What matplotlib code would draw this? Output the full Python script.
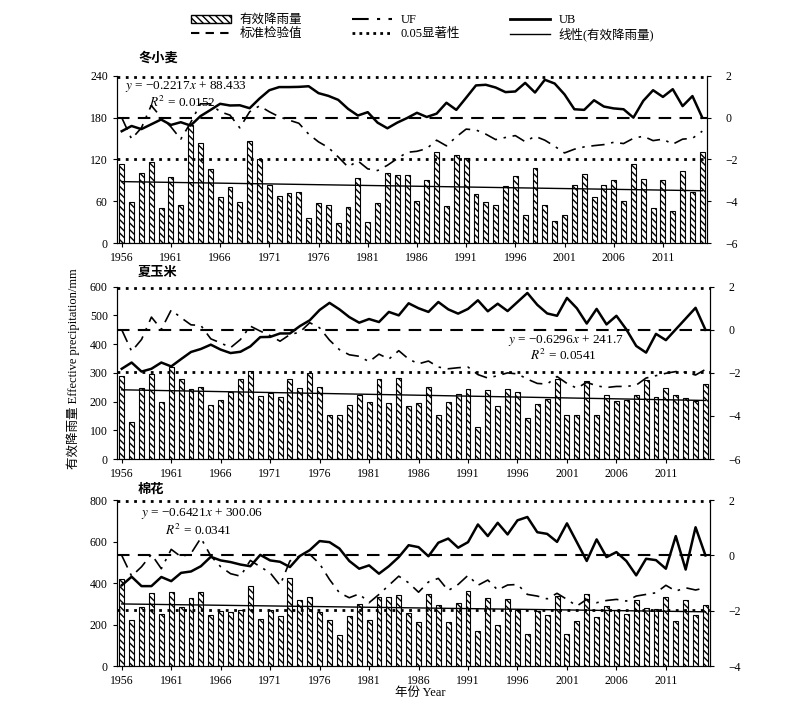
import numpy as np
import matplotlib
matplotlib.use('Agg')
import matplotlib.pyplot as plt
from matplotlib.patches import Patch
from matplotlib.lines import Line2D

plt.rcParams['font.family'] = ['Liberation Serif', 'Noto Sans CJK SC']
plt.rcParams['mathtext.fontset'] = 'stix'
plt.rcParams['hatch.linewidth'] = 1.0

#%% data
years = np.arange(1956, 2016)
year_ticks = list(range(1956, 2016, 5))

crops = ['冬小麦', '夏玉米', '棉花']

# 有效降雨量 (mm)
wheat_p = [114, 59, 101, 117, 51, 95, 55, 170, 143, 107, 66, 80, 59, 146, 121, 84, 68, 72, 73, 36,
           58, 55, 29, 52, 93, 30, 57, 100, 97, 97, 61, 91, 130, 53, 127, 122, 71, 59, 55, 82,
           96, 40, 108, 55, 31, 41, 83, 99, 66, 83, 90, 61, 114, 92, 50, 91, 46, 104, 74, 131]
maize_p = [290, 130, 249, 297, 199, 319, 280, 244, 250, 189, 204, 232, 277, 308, 218, 229, 215, 277, 247, 299,
           250, 153, 152, 189, 223, 199, 277, 195, 282, 184, 195, 251, 155, 200, 225, 244, 110, 241, 183, 243,
           232, 143, 191, 208, 280, 152, 152, 272, 154, 224, 203, 206, 222, 275, 216, 249, 222, 214, 203, 261]
cotton_p = [419, 223, 285, 352, 253, 356, 284, 327, 358, 248, 266, 260, 268, 385, 226, 271, 242, 424, 316, 332,
            260, 223, 148, 242, 298, 224, 332, 332, 342, 255, 213, 346, 294, 210, 303, 363, 169, 326, 198, 321,
            269, 156, 266, 247, 339, 156, 215, 345, 235, 289, 269, 250, 318, 281, 277, 335, 216, 318, 247, 295]

# UF / UB
wheat_uf = [0.0, -1.02, -0.49, 0.58, 0.02, -0.44, -1.03, -0.24, 0.66, 0.66, 0.28, 0.12, -0.49, 0.28, 0.56,
            0.28, 0.04, -0.12, -0.27, -0.79, -1.16, -1.43, -1.88, -2.36, -2.07, -2.45, -2.53, -2.28, -1.96, -1.66,
            -1.61, -1.48, -1.08, -1.35, -0.92, -0.55, -0.59, -0.79, -1.05, -0.95, -0.86, -1.15, -0.89, -1.08, -1.37,
            -1.69, -1.51, -1.40, -1.34, -1.29, -1.18, -1.24, -0.99, -0.89, -1.10, -1.03, -1.27, -1.03, -0.99, -0.65]
wheat_ub = [-0.65, -0.40, -0.55, -0.32, -0.09, -0.35, -0.22, -0.38, 0.07, 0.36, 0.66, 0.58, 0.59, 0.45, 0.91,
            1.31, 1.46, 1.46, 1.47, 1.50, 1.17, 1.04, 0.85, 0.42, 0.10, 0.26, -0.24, -0.51, -0.24, -0.02,
            0.23, 0.03, 0.19, 0.71, 0.37, 0.95, 1.54, 1.57, 1.44, 1.22, 1.25, 1.66, 1.20, 1.81, 1.63,
            1.11, 0.40, 0.37, 0.83, 0.53, 0.44, 0.40, 0.0, 0.80, 1.31, 0.99, 1.36, 0.55, 1.03, 0.0]
maize_uf = [0.0, -1.0, -0.45, 0.59, 0.02, 0.92, 0.56, 0.23, 0.20, -0.42, -0.61, -0.83, -0.45, 0.17, -0.06,
            -0.27, -0.53, -0.22, -0.11, 0.33, 0.09, -0.48, -0.92, -1.16, -1.23, -1.48, -1.13, -1.36, -0.97, -1.36,
            -1.58, -1.45, -1.73, -1.81, -1.76, -1.73, -2.08, -2.24, -2.13, -2.0, -2.05, -2.29, -2.49, -2.52, -2.17,
            -2.49, -2.71, -2.44, -2.60, -2.68, -2.63, -2.63, -2.57, -2.24, -2.13, -2.02, -1.94, -1.97, -2.10, -1.84]
maize_ub = [-1.81, -1.52, -1.94, -1.81, -1.52, -1.70, -1.36, -1.03, -0.89, -0.69, -0.92, -1.08, -1.02, -0.77, -0.34,
            -0.33, -0.17, -0.17, 0.17, 0.44, 0.92, 1.25, 0.95, 0.59, 0.33, 0.50, 0.36, 0.83, 0.67, 1.23,
            1.0, 0.83, 1.29, 0.95, 0.75, 0.97, 1.37, 0.86, 1.21, 0.87, 1.29, 1.71, 1.16, 0.76, 0.65,
            1.48, 1.0, 0.29, 0.97, 0.25, 0.65, 0.02, -0.75, -1.06, -0.19, -0.48, 0.02, 0.52, 1.02, 0.0]
cotton_uf = [0.0, -0.75, -0.41, 0.04, -0.48, 0.22, -0.05, 0.07, 0.63, -0.02, -0.41, -0.66, -0.75, -0.18, -0.41,
             -0.63, -1.08, -0.20, -0.02, 0.04, -0.30, -0.87, -1.35, -1.53, -1.39, -1.71, -1.41, -1.08, -0.75, -0.99,
             -1.33, -0.96, -0.83, -1.27, -1.05, -0.72, -1.08, -0.89, -1.25, -1.07, -1.05, -1.41, -1.47, -1.57, -1.37,
             -1.59, -1.83, -1.59, -1.71, -1.63, -1.59, -1.65, -1.47, -1.41, -1.35, -1.08, -1.29, -1.17, -1.25, -1.17]
cotton_ub = [-1.08, -0.77, -1.11, -1.11, -0.78, -0.93, -0.63, -0.58, -0.39, -0.05, -0.18, -0.24, -0.33, -0.39, 0.02,
             -0.18, -0.23, -0.42, -0.02, 0.19, 0.52, 0.48, 0.25, -0.20, -0.48, -0.36, -0.66, -0.39, -0.06, 0.37,
             0.30, -0.03, 0.46, 0.61, 0.28, 0.48, 1.12, 0.70, 1.18, 0.76, 1.27, 1.39, 0.84, 0.78, 0.49,
             1.16, 0.48, -0.20, 0.58, -0.06, 0.12, -0.20, -0.72, -0.12, -0.17, -0.48, 0.70, -0.51, 1.02, 0.0]

# trend equations
slopes = [-0.2217, -0.6296, -0.6421]
intercepts = ['88.433', '241.7', '300.06']
r2 = ['0.0152', '0.0541', '0.0341']

left_lims = [(0, 240, 60), (0, 600, 100), (0, 800, 200)]
right_lims = [(-6, 2, 2), (-6, 2, 2), (-4, 2, 2)]

precip = [wheat_p, maize_p, cotton_p]
uf_all = [wheat_uf, maize_uf, cotton_uf]
ub_all = [wheat_ub, maize_ub, cotton_ub]

#%% layout
fig = plt.figure(figsize=(8, 7.15), dpi=100)
boxes = [[0.146, 0.660, 0.738, 0.234],
         [0.146, 0.358, 0.742, 0.241],
         [0.146, 0.0685, 0.742, 0.232]]
title_y = [1 - 58 / 715, 1 - 273 / 715, 1 - 490 / 715]
# (x, y, ha) in axes fraction for equation and R2
eq_pos = [(0.014, 0.935, 'left'), (0.757, 0.69, 'center'), (0.04, 0.92, 'left')]
r2_pos = [(0.054, 0.84, 'left'), (0.752, 0.60, 'center'), (0.081, 0.82, 'left')]

for i in range(3):
    ax = fig.add_axes(boxes[i])
    lo, hi, st = left_lims[i]
    ax.bar(years, precip[i], width=0.5, color='white', edgecolor='black',
           hatch='\\\\\\\\\\', linewidth=0.8, zorder=2)
    t = np.arange(1, 61)
    ax.plot(years, slopes[i] * t + float(intercepts[i]), color='black', lw=1.0, zorder=3)
    ax.set_ylim(lo, hi)
    ax.set_yticks(np.arange(lo, hi + 1, st))
    ax.set_xlim(1955.5, 2015.5)
    ax.set_xticks(year_ticks)
    ax.tick_params(labelsize=8.5, direction='out', length=3)
    ax.spines['top'].set_visible(False)

    ax2 = ax.twinx()
    rlo, rhi, rst = right_lims[i]
    ax2.set_ylim(rlo, rhi)
    ax2.set_yticks(np.arange(rlo, rhi + 1, rst))
    ax2.set_yticklabels([str(v).replace('-', '\u2212') for v in range(rlo, rhi + 1, rst)])
    ax2.tick_params(labelsize=8.5, direction='out', length=3, pad=10)
    ax2.spines['top'].set_visible(False)
    ax2.axhline(0, color='black', ls=(0, (6, 4)), lw=1.5)
    ax2.axhline(1.96, color='black', ls=(0, (1, 2)), lw=2)
    ax2.axhline(-1.96, color='black', ls=(0, (1, 2)), lw=2)
    ax2.plot(years, uf_all[i], color='black', lw=1.2, ls=(0, (8, 4, 1.5, 4)))
    ax2.plot(years, ub_all[i], color='black', lw=1.8)

    sign = '\u2212' if slopes[i] < 0 else '+'
    ex, ey, ha = eq_pos[i]
    ax2.text(ex, ey, '$y$ = %s%.4f$x$ + %s' % (sign, abs(slopes[i]), intercepts[i]),
             transform=ax.transAxes, fontsize=9.5, ha=ha, va='center')
    rx, ry, rha = r2_pos[i]
    ax2.text(rx, ry, '$R^2$ = ' + r2[i], transform=ax.transAxes, fontsize=9.5,
             ha=rha, va='center')

    fig.text(138 / 800, title_y[i], crops[i], fontsize=9.5, fontweight='bold',
             ha='left', va='center')

fig.text(0.525, 0.031, '年份 Year', ha='center', va='center', fontsize=9)
fig.text(0.091, 0.485, '有效降雨量 Effective precipitation/mm', rotation=90,
         ha='center', va='center', fontsize=9)

#%% legend
handles = [Patch(facecolor='white', edgecolor='black', hatch='\\\\\\\\\\'),
           Line2D([], [], color='black', ls=(0, (4, 3)), lw=1.5),
           Line2D([], [], color='black', ls=(0, (8, 4, 1.5, 4)), lw=1.5),
           Line2D([], [], color='black', ls=(0, (1, 1.5)), lw=2),
           Line2D([], [], color='black', lw=2),
           Line2D([], [], color='black', lw=1)]
labels = ['有效降雨量', '标准检验值', 'UF', '0.05显著性', 'UB', '线性(有效降雨量)']
fig.legend(handles, labels, ncol=3, loc='center', bbox_to_anchor=(0.528, 0.961),
           frameon=False, fontsize=9, columnspacing=4, handlelength=3.2,
           labelspacing=0.15, handletextpad=0.7, handleheight=0.6)

fig.savefig('out.png', dpi=100)
